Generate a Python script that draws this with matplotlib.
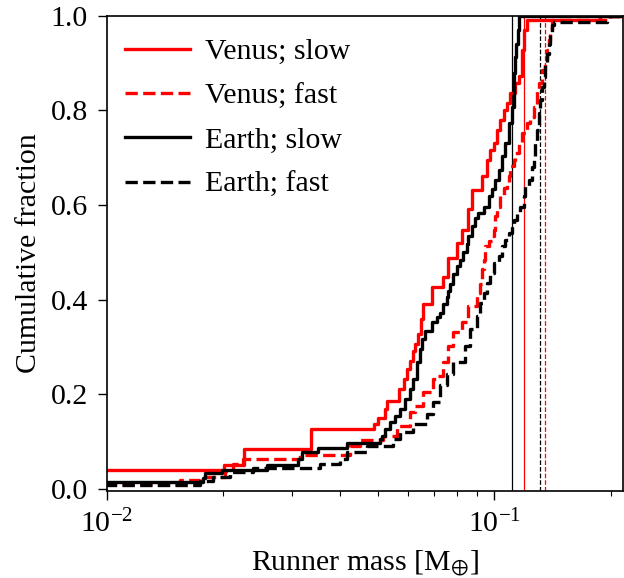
import matplotlib
matplotlib.use("Agg")
import matplotlib.pyplot as plt

plt.rcParams['font.family'] = ['Liberation Serif', 'DejaVu Serif']
plt.rcParams['mathtext.fontset'] = 'stix'

# Venus; slow
venus_slow_x = [0.008, 0.02006, 0.02259, 0.03365, 0.04897, 0.05016, 0.05228, 0.05290, 0.05692,
                0.05853, 0.05948, 0.06066, 0.06164, 0.06249, 0.06373, 0.06464, 0.06565, 0.06902,
                0.07396, 0.07619, 0.08009, 0.08250, 0.08581, 0.08757, 0.09292, 0.09573, 0.09765,
                0.09958, 0.10162, 0.10363, 0.10568, 0.10784, 0.10997, 0.11331, 0.11555, 0.11791,
                0.11903, 0.12146, 0.18787, 0.3]
venus_slow_y = [0.041, 0.050, 0.085, 0.126, 0.138, 0.150, 0.169, 0.187, 0.212,
                0.233, 0.254, 0.271, 0.292, 0.306, 0.327, 0.359, 0.391, 0.428,
                0.449, 0.489, 0.519, 0.548, 0.591, 0.631, 0.662, 0.696, 0.717,
                0.732, 0.759, 0.780, 0.801, 0.816, 0.836, 0.857, 0.873, 0.927,
                0.969, 0.992, 1.0, 1.0]

# Venus; fast
venus_fast_x = [0.008, 0.01544, 0.01739, 0.02018, 0.02116, 0.02246, 0.03152, 0.04246, 0.04506,
                0.05176, 0.05605, 0.06066, 0.06249, 0.06565, 0.06969, 0.07179, 0.07396, 0.07619,
                0.07848, 0.08250, 0.08581, 0.09021, 0.09199, 0.09292, 0.09383, 0.09477, 0.09666,
                0.09864, 0.09958, 0.10060, 0.10162, 0.10363, 0.10568, 0.10784, 0.10888, 0.10997,
                0.11217, 0.11331, 0.11555, 0.11791, 0.12146, 0.12386, 0.12634, 0.12890, 0.13015,
                0.13282, 0.13544, 0.13682, 0.13812, 0.13953, 0.14095, 0.19941, 0.3]
venus_fast_y = [0.010, 0.020, 0.026, 0.039, 0.054, 0.064, 0.073, 0.092, 0.103,
                0.113, 0.134, 0.163, 0.176, 0.205, 0.233, 0.240, 0.268, 0.303,
                0.331, 0.352, 0.387, 0.415, 0.433, 0.464, 0.485, 0.513, 0.524,
                0.534, 0.548, 0.576, 0.597, 0.619, 0.636, 0.643, 0.661, 0.682,
                0.696, 0.710, 0.731, 0.752, 0.773, 0.787, 0.808, 0.843, 0.857,
                0.885, 0.906, 0.927, 0.948, 0.973, 0.991, 1.0, 1.0]

# Earth; slow
earth_slow_x = [0.008, 0.01771, 0.01792, 0.01979, 0.02587, 0.03115, 0.03184, 0.03509, 0.04163,
                0.05075, 0.05125, 0.05228, 0.05386, 0.05548, 0.05716, 0.05888, 0.06066, 0.06186,
                0.06313, 0.06438, 0.06503, 0.06632, 0.06902, 0.07110, 0.07252, 0.07396, 0.07547,
                0.07619, 0.07696, 0.07848, 0.08009, 0.08167, 0.08330, 0.08500, 0.08581, 0.08757,
                0.08930, 0.09106, 0.09383, 0.09666, 0.09864, 0.10060, 0.10259, 0.10468, 0.10675,
                0.10888, 0.11109, 0.11217, 0.11263, 0.11331, 0.11397, 0.11486, 0.11555, 0.3]
earth_slow_y = [0.014, 0.024, 0.035, 0.040, 0.052, 0.064, 0.079, 0.087, 0.097,
                0.106, 0.113, 0.127, 0.141, 0.155, 0.169, 0.191, 0.212, 0.233,
                0.268, 0.296, 0.317, 0.334, 0.352, 0.363, 0.373, 0.391, 0.405,
                0.419, 0.433, 0.454, 0.471, 0.485, 0.500, 0.517, 0.534, 0.555,
                0.573, 0.584, 0.597, 0.619, 0.633, 0.654, 0.675, 0.703, 0.731,
                0.773, 0.808, 0.843, 0.878, 0.913, 0.941, 0.969, 1.0, 1.0]

# Earth; fast
earth_fast_x = [0.008, 0.01739, 0.01878, 0.02079, 0.02384, 0.03551, 0.04000, 0.04171, 0.04698,
                0.05483, 0.05716, 0.06175, 0.06699, 0.06969, 0.07252, 0.07547, 0.07848, 0.08414,
                0.08669, 0.09021, 0.09199, 0.09383, 0.09573, 0.09765, 0.09958, 0.10259, 0.10468,
                0.10675, 0.10888, 0.11109, 0.11217, 0.11446, 0.11672, 0.11903, 0.12024, 0.12261,
                0.12512, 0.12634, 0.12760, 0.12890, 0.13015, 0.13148, 0.13282, 0.13408, 0.13544,
                0.13682, 0.13812, 0.13953, 0.14095, 0.14228, 0.19590, 0.3]
earth_fast_y = [0.009, 0.018, 0.026, 0.036, 0.045, 0.054, 0.064, 0.078, 0.092,
                0.106, 0.120, 0.138, 0.159, 0.184, 0.219, 0.243, 0.268, 0.303,
                0.338, 0.366, 0.394, 0.415, 0.436, 0.457, 0.478, 0.492, 0.513,
                0.527, 0.541, 0.559, 0.569, 0.584, 0.597, 0.619, 0.640, 0.654,
                0.680, 0.703, 0.731, 0.759, 0.794, 0.822, 0.850, 0.871, 0.899,
                0.920, 0.941, 0.963, 0.980, 0.987, 1.0, 1.0]

# reference (median) masses shown as thin vertical lines
vline_values = [0.1111, 0.1195, 0.1315, 0.1354]
vline_colors = ['black', 'red', 'black', 'red']
vline_styles = ['-', '-', '--', '--']

series = [
    ("Venus; slow", venus_slow_x, venus_slow_y, 'red', '-'),
    ("Venus; fast", venus_fast_x, venus_fast_y, 'red', '--'),
    ("Earth; slow", earth_slow_x, earth_slow_y, 'black', '-'),
    ("Earth; fast", earth_fast_x, earth_fast_y, 'black', '--'),
]

FS = 21.5

fig = plt.figure(figsize=(6.24, 5.78), dpi=100)
ax = fig.add_axes([0.1710, 0.1505, 0.8275, 0.8223])

for v, c, s in zip(vline_values, vline_colors, vline_styles):
    ax.axvline(v, color=c, ls=s, lw=0.9)

for label, xs, ys, c, s in series:
    ax.plot(xs, ys, drawstyle='steps-post', color=c, ls=s, lw=2.4, label=label)

ax.set_xscale('log')
ax.set_xlim(0.01, 0.215)
ax.set_ylim(-0.004, 1.0)
ax.set_yticks([0.0, 0.2, 0.4, 0.6, 0.8, 1.0])
ax.set_yticklabels(['0.0', '0.2', '0.4', '0.6', '0.8', '1.0'])
ax.tick_params(axis='both', which='major', labelsize=FS, length=6.5, width=1.0, pad=7)
ax.tick_params(axis='x', which='minor', length=3.5, width=0.8)
ax.set_xlabel(r"Runner mass [M$_{\oplus}$]", fontsize=FS, labelpad=8)
ax.set_ylabel("Cumulative fraction", fontsize=FS, labelpad=6)
for sp in ax.spines.values():
    sp.set_linewidth(1.2)

ax.legend(loc='upper left', bbox_to_anchor=(0.0, 0.99), frameon=False, fontsize=FS,
          handlelength=2.2, labelspacing=0.58, borderaxespad=0.2, handletextpad=0.5)

fig.savefig('out.png', dpi=100)
